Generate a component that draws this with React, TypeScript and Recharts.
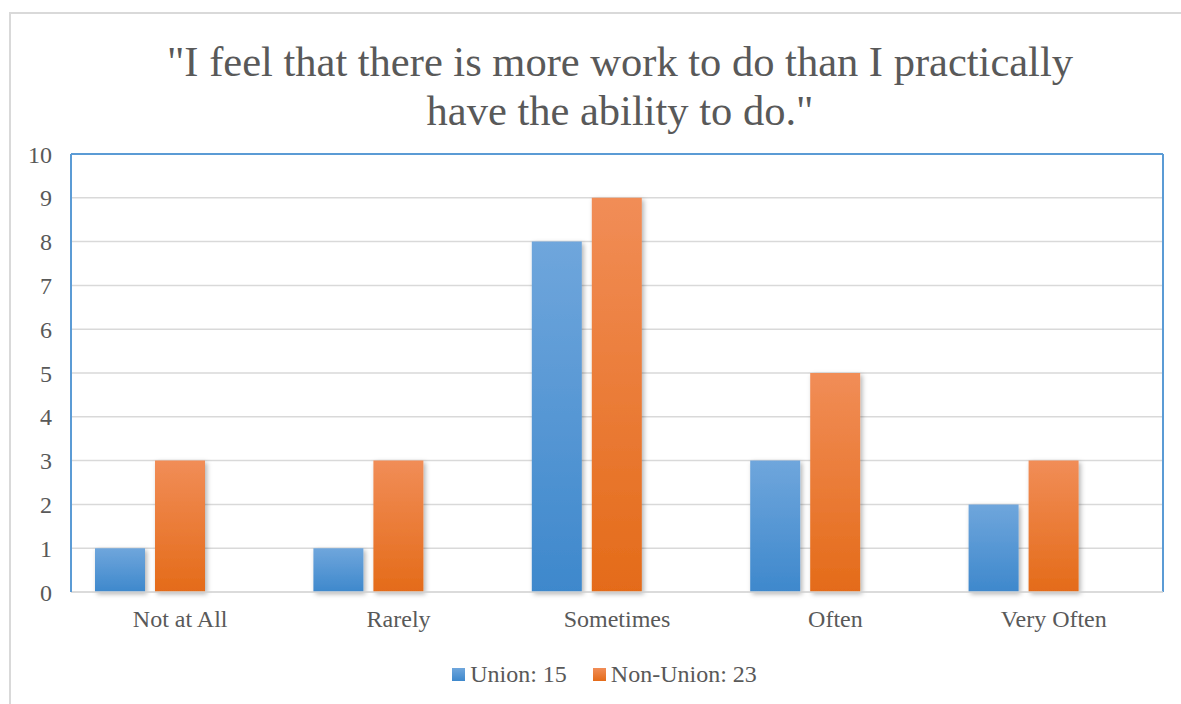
import { BarChart, Bar, XAxis, YAxis, CartesianGrid, Legend, ReferenceLine } from 'recharts'

const categories = ['Not at All', 'Rarely', 'Sometimes', 'Often', 'Very Often']
const unionValues = [1, 1, 8, 3, 2]
const nonUnionValues = [3, 3, 9, 5, 3]
// empty third series in the source workbook, keeps the bars left of centre
const totalValues: (number | null)[] = [null, null, null, null, null]
const yTicks = [0, 1, 2, 3, 4, 5, 6, 7, 8, 9, 10]

const SERIES = [
  { key: 'union', name: 'Union: 15', grad: 'gradUnion' },
  { key: 'nonUnion', name: 'Non-Union: 23', grad: 'gradNonUnion' },
]

const data = categories.map((c, i) => ({
  category: c,
  union: unionValues[i],
  nonUnion: nonUnionValues[i],
  total: totalValues[i],
}))

const FONT = '"Liberation Serif", "Times New Roman", serif'
const TEXT = '#595959'
const BORDER = '#5b9bd5'
const GRID = '#d9d9d9'

function LegendContent() {
  return (
    <div
      style={{
        display: 'flex',
        justifyContent: 'center',
        alignItems: 'center',
        gap: 26,
        fontFamily: FONT,
        fontSize: 24,
        color: TEXT,
        lineHeight: '24px',
      }}
    >
      {SERIES.map((s) => (
        <div key={s.key} style={{ display: 'flex', alignItems: 'center', gap: 5 }}>
          <svg width={13} height={13}>
            <rect width={13} height={13} fill={`url(#${s.grad})`} />
          </svg>
          <span>{s.name}</span>
        </div>
      ))}
    </div>
  )
}

export default function App() {
  return (
    <div style={{ position: 'absolute', left: 0, top: 0, width: 1181, height: 704, background: '#fff', overflow: 'hidden' }}>
      <svg width={0} height={0} style={{ position: 'absolute' }}>
        <defs>
          <linearGradient id="gradUnion" x1="0" y1="0" x2="0" y2="1">
            <stop offset="0%" stopColor="#6fa6dc" />
            <stop offset="100%" stopColor="#3e88cc" />
          </linearGradient>
          <linearGradient id="gradNonUnion" x1="0" y1="0" x2="0" y2="1">
            <stop offset="0%" stopColor="#f18d57" />
            <stop offset="100%" stopColor="#e46b19" />
          </linearGradient>
          <filter id="barShadow" x="-20%" y="-10%" width="150%" height="130%">
            <feDropShadow dx="2" dy="2" stdDeviation="2.5" floodColor="#000" floodOpacity="0.3" />
          </filter>
        </defs>
      </svg>

      <div
        style={{
          position: 'absolute',
          left: 9,
          top: 12,
          right: -10,
          bottom: -10,
          borderLeft: `2px solid ${GRID}`,
          borderTop: `2px solid ${GRID}`,
        }}
      />

      <div
        style={{
          position: 'absolute',
          left: 120,
          top: 37,
          width: 1000,
          textAlign: 'center',
          fontFamily: FONT,
          fontSize: 42.5,
          lineHeight: '49px',
          color: TEXT,
        }}
      >
        "I feel that there is more work to do than I practically
        <br />
        have the ability to do."
      </div>

      <div style={{ position: 'absolute', left: 0, top: 0 }}>
        <BarChart
          width={1181}
          height={704}
          data={data}
          margin={{ top: 154, right: 18, left: 0, bottom: 18 }}
          barSize={50}
          barGap={10}
        >
          <CartesianGrid vertical={false} stroke={GRID} strokeWidth={1.5} />
          <XAxis
            dataKey="category"
            height={70}
            axisLine={{ stroke: GRID, strokeWidth: 1.5 }}
            tickLine={false}
            tickSize={0}
            tickMargin={18}
            tick={{ fill: TEXT, fontSize: 24, fontFamily: FONT }}
          />
          <YAxis
            width={71}
            domain={[0, 10]}
            ticks={yTicks}
            interval={0}
            axisLine={{ stroke: BORDER, strokeWidth: 2 }}
            tickLine={false}
            tickSize={0}
            tickMargin={19}
            tick={{ fill: TEXT, fontSize: 24, fontFamily: FONT }}
          />
          <ReferenceLine y={10} stroke={BORDER} strokeWidth={2} />
          <ReferenceLine x="Very Often" position="end" stroke={BORDER} strokeWidth={2} />
          <Legend
            verticalAlign="bottom"
            height={24}
            wrapperStyle={{ left: 23 }}
            content={() => <LegendContent />}
          />
          {SERIES.map((s) => (
            <Bar
              key={s.key}
              dataKey={s.key}
              name={s.name}
              fill={`url(#${s.grad})`}
              filter="url(#barShadow)"
              isAnimationActive={false}
            />
          ))}
          <Bar dataKey="total" name="Total" legendType="none" fill="transparent" isAnimationActive={false} />
        </BarChart>
      </div>
    </div>
  )
}
